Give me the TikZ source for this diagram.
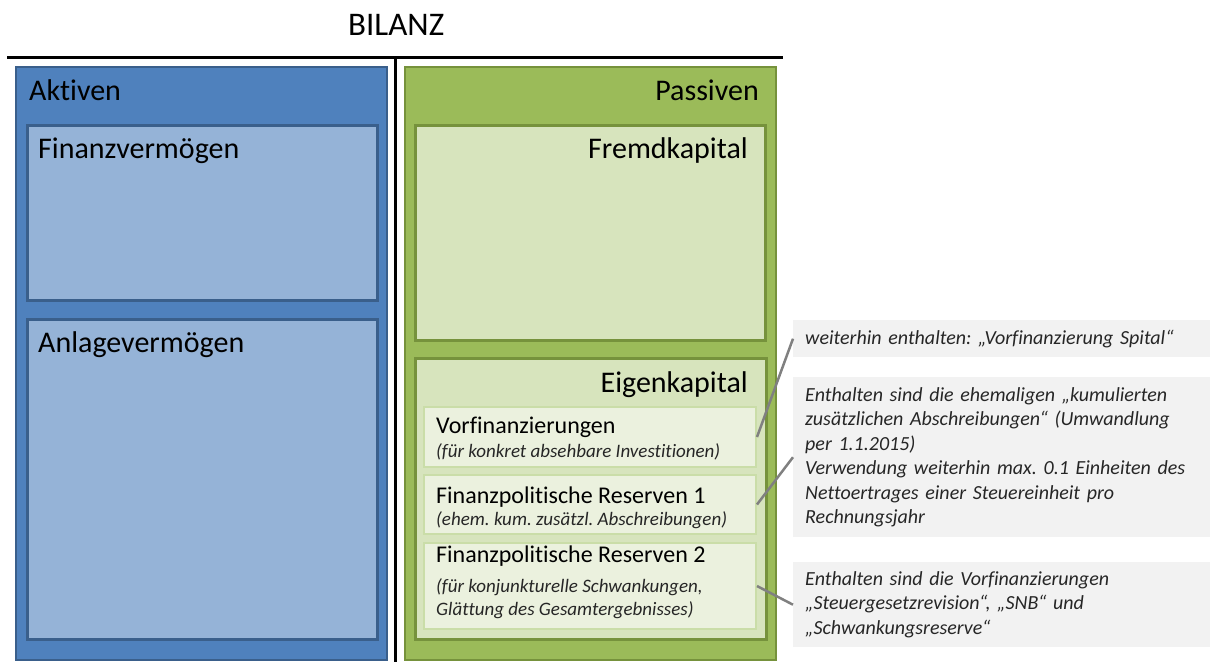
\documentclass[tikz,border=0pt]{standalone}
\usepackage{fontspec}
\setmainfont{Carlito}[Ligatures=NoCommon]
\frenchspacing
\definecolor{blueOuter}{HTML}{4F81BD}
\definecolor{blueInner}{HTML}{95B3D7}
\definecolor{blueBorder}{HTML}{3A5F8B}
\definecolor{greenOuter}{HTML}{9BBB59}
\definecolor{greenInner}{HTML}{D7E4BD}
\definecolor{greenBorder}{HTML}{76923C}
\definecolor{subFill}{HTML}{EBF1DE}
\definecolor{subBorder}{HTML}{CADDA8}
\definecolor{noteFill}{HTML}{F2F2F2}
\definecolor{connGray}{HTML}{808080}
\begin{document}
\begin{tikzpicture}[x=1pt,y=-1pt,
  box/.style={draw, rectangle, anchor=north west, inner sep=0pt},
  outerbox/.style={box, line width=2pt},
  innerbox/.style={box, line width=3pt},
  subbox/.style={box, line width=2pt, fill=subFill, draw=subBorder},
  notebox/.style={rectangle, anchor=north west, fill=noteFill, inner xsep=12pt, inner ysep=0pt,
     minimum width=417pt, text width=393pt, align=left,
     font=\fontsize{20}{24.5}\selectfont\itshape, text=black!85},
  bigtxt/.style={inner sep=0pt, font=\fontsize{30}{35}\selectfont, text=black},
  subtitle/.style={inner sep=0pt, anchor=base west, font=\fontsize{24}{28}\selectfont, text=black},
  subnote/.style={inner sep=0pt, anchor=base west, font=\fontsize{19}{23}\selectfont\itshape, text=black!85},
  conn/.style={draw=connGray, line width=2.5pt}]
\useasboundingbox (0,0) rectangle (1210,662);

% title and T-lines
\node[inner sep=0pt, anchor=base west, font=\fontsize{33}{38}\selectfont] (title) at (348,35) {BILANZ};
\coordinate (hl) at (7,57);
\coordinate (hr) at (783,57);
\coordinate (vt) at (395,57);
\coordinate (vb) at (395,662);
\draw[line width=3pt] (hl) -- (hr);
\draw[line width=3pt] (vt) -- (vb);

% Aktiven
\node[outerbox, fill=blueOuter, draw=blueBorder, minimum width=371pt, minimum height=593pt] (aktiven) at (15,66) {};
\node[innerbox, fill=blueInner, draw=blueBorder, minimum width=350pt, minimum height=175pt] (finanz) at (26,124) {};
\node[innerbox, fill=blueInner, draw=blueBorder, minimum width=350pt, minimum height=320pt] (anlage) at (26,318) {};
\node[bigtxt, anchor=base west] (aktivenlbl) at (29,100) {Aktiven};
\node[bigtxt, anchor=base west] (finanzlbl) at (38,158) {Finanzvermögen};
\node[bigtxt, anchor=base west] (anlagelbl) at (38,352) {Anlagevermögen};

% Passiven
\node[outerbox, fill=greenOuter, draw=greenBorder, minimum width=371pt, minimum height=593pt] (passiven) at (404,66) {};
\node[innerbox, fill=greenInner, draw=greenBorder, minimum width=350pt, minimum height=215pt] (fremd) at (414,124) {};
\node[innerbox, fill=greenInner, draw=greenBorder, minimum width=351pt, minimum height=281pt] (eigen) at (414,357) {};
\node[bigtxt, anchor=base east] (passivenlbl) at (759,100) {Passiven};
\node[bigtxt, anchor=base east] (fremdlbl) at (748,158) {Fremdkapital};
\node[bigtxt, anchor=base east] (eigenlbl) at (748,392) {Eigenkapital};

% sub boxes
\node[subbox, minimum width=332pt, minimum height=60pt] (vorf) at (423,406) {};
\node[subbox, minimum width=332pt, minimum height=59pt] (fr1) at (423,474) {};
\node[subbox, minimum width=332pt, minimum height=86pt] (fr2) at (423,542) {};
\node[subtitle] (vorflbl) at (436,433) {Vorfinanzierungen};
\node[subnote] (vorfsub) at (436,457) {(für konkret absehbare Investitionen)};
\node[subtitle] (fr1lbl) at (436,503) {Finanzpolitische Reserven 1};
\node[subnote] (fr1sub) at (436,525) {(ehem. kum. zusätzl. Abschreibungen)};
\node[subtitle] (fr2lbl) at (436,562) {Finanzpolitische Reserven 2};
\node[subnote] (fr2suba) at (436,592) {(für konjunkturelle Schwankungen,};
\node[subnote] (fr2subb) at (436,615) {Glättung des Gesamtergebnisses)};

% notes
\node[notebox, minimum height=37pt] (note1) at (793,320) {weiterhin enthalten: „Vorfinanzierung Spital“};
\node[notebox, minimum height=160pt] (note2) at (793,377) {Enthalten sind die ehemaligen „kumulierten\\zusätzlichen Abschreibungen“ (Umwandlung\\per 1.1.2015)\\Verwendung weiterhin max. 0.1 Einheiten des\\Nettoertrages einer Steuereinheit pro\\Rechnungsjahr};
\node[notebox, minimum height=85pt] (note3) at (793,562) {Enthalten sind die Vorfinanzierungen\\„Steuergesetzrevision“, „SNB“ und\\„Schwankungsreserve“};

% connectors
\draw[conn] (vorf.east) -- (note1.west);
\draw[conn] (fr1.east) -- (note2.west);
\draw[conn] (fr2.east) -- (note3.west);
\end{tikzpicture}
\end{document}
